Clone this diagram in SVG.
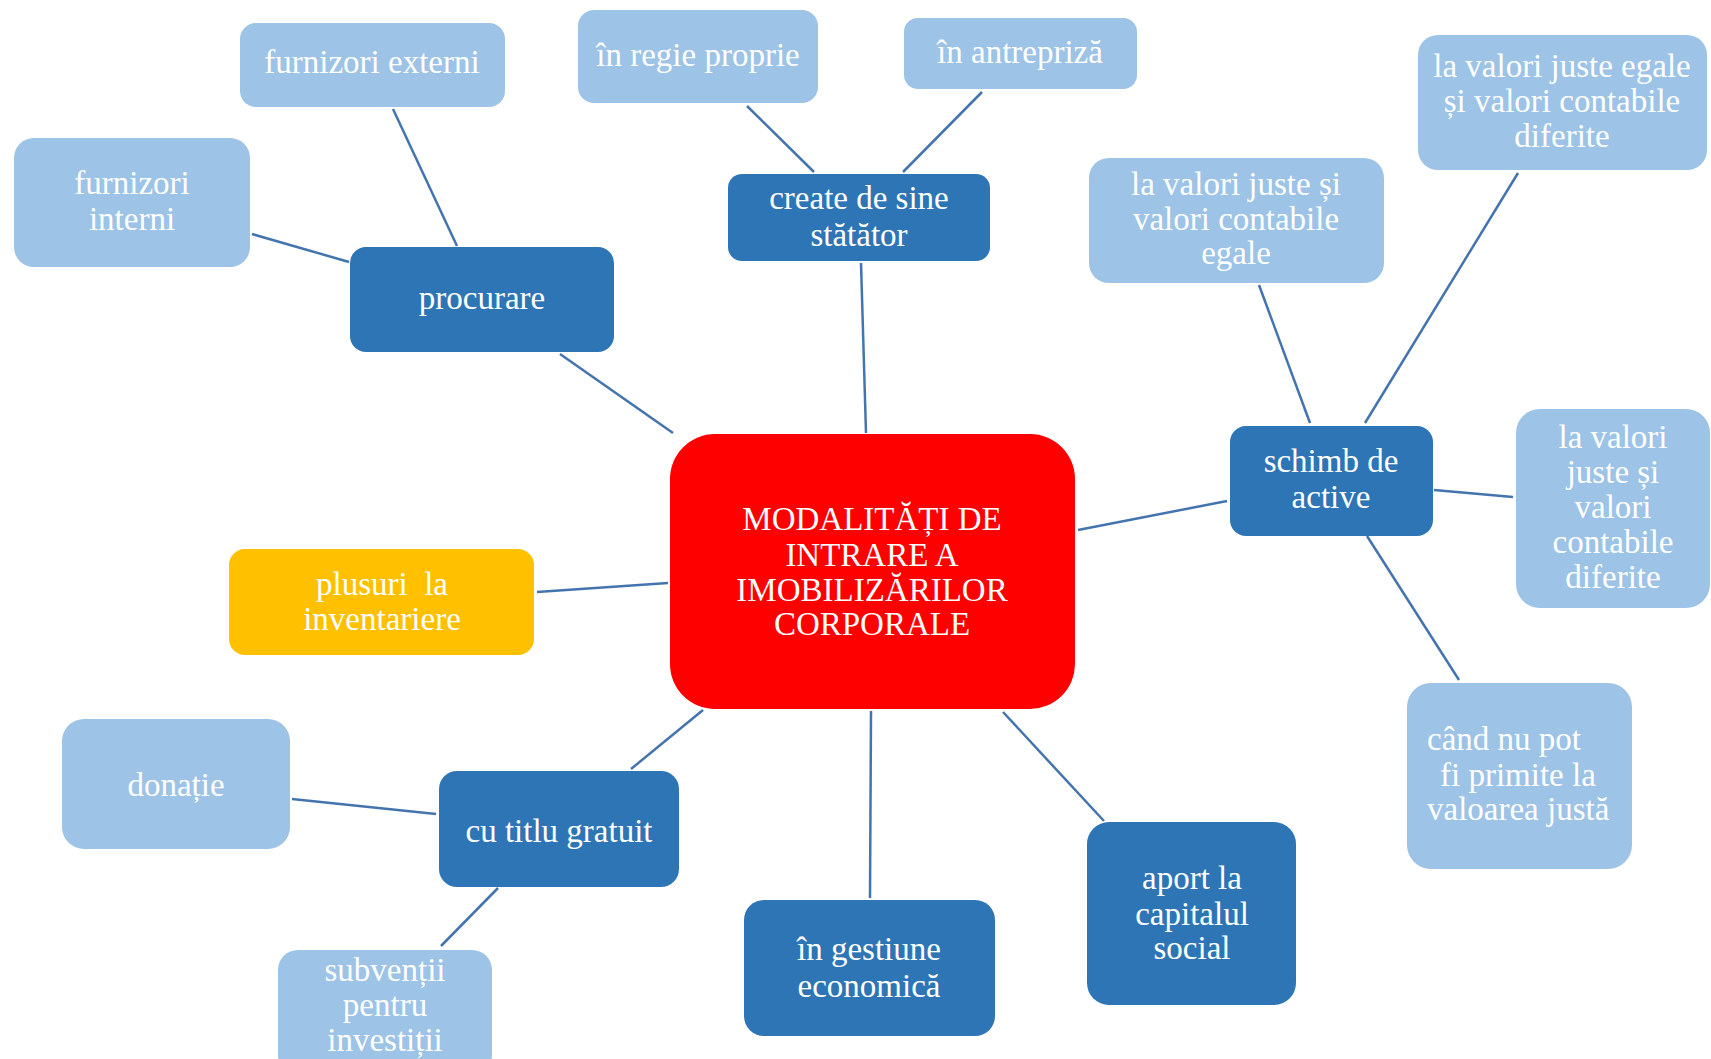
<svg xmlns="http://www.w3.org/2000/svg" width="1711" height="1059" viewBox="0 0 1711 1059">
<style>
  .lt { fill: #9DC3E6; }
  .dk { fill: #2E75B6; }
  .yl { fill: #FFC000; }
  .rd { fill: #FF0000; }
  text { font-family: "Liberation Serif", "Times New Roman", serif; font-size: 33px; fill: #FFFFFF; text-anchor: middle; }
  #connectors line { stroke: #4474AE; stroke-width: 2.5; }
</style>
<rect x="0" y="0" width="1711" height="1059" fill="#FFFFFF"/>
<g id="connectors">
  <line x1="393" y1="109" x2="457" y2="246"/>
  <line x1="252" y1="234" x2="349" y2="262"/>
  <line x1="560" y1="354" x2="673" y2="433"/>
  <line x1="747" y1="106" x2="814" y2="172"/>
  <line x1="982" y1="92" x2="903" y2="172"/>
  <line x1="861" y1="263" x2="866" y2="433"/>
  <line x1="1078" y1="530" x2="1227" y2="501"/>
  <line x1="1259" y1="285" x2="1310" y2="423"/>
  <line x1="1518" y1="173" x2="1365" y2="423"/>
  <line x1="1434" y1="490" x2="1513" y2="497"/>
  <line x1="1367" y1="536" x2="1459" y2="680"/>
  <line x1="537" y1="592" x2="668" y2="583"/>
  <line x1="703" y1="710" x2="631" y2="769"/>
  <line x1="292" y1="799" x2="436" y2="814"/>
  <line x1="498" y1="888" x2="441" y2="946"/>
  <line x1="871" y1="711" x2="870" y2="898"/>
  <line x1="1003" y1="712" x2="1104" y2="821"/>
</g>
<g id="center">
  <rect class="rd" x="670" y="434" width="405" height="275" rx="45"/>
  <text x="872" y="530">MODALITĂȚI DE</text>
  <text x="872" y="566">INTRARE A</text>
  <text x="872" y="601">IMOBILIZĂRILOR</text>
  <text x="872" y="635">CORPORALE</text>
</g>
<g id="furnizori-externi">
  <rect class="lt" x="240" y="23" width="265" height="84" rx="16"/>
  <text x="372" y="73">furnizori externi</text>
</g>
<g id="furnizori-interni">
  <rect class="lt" x="14" y="138" width="236" height="129" rx="20"/>
  <text x="132" y="194">furnizori</text>
  <text x="132" y="230">interni</text>
</g>
<g id="procurare">
  <rect class="dk" x="350" y="247" width="264" height="105" rx="16"/>
  <text x="482" y="309">procurare</text>
</g>
<g id="in-regie-proprie">
  <rect class="lt" x="578" y="10" width="240" height="93" rx="16"/>
  <text x="698" y="66">în regie proprie</text>
</g>
<g id="in-antrepriza">
  <rect class="lt" x="904" y="18" width="233" height="71" rx="14"/>
  <text x="1020" y="63">în antrepriză</text>
</g>
<g id="create-de-sine-statator">
  <rect class="dk" x="728" y="174" width="262" height="87" rx="14"/>
  <text x="859" y="209">create de sine</text>
  <text x="859" y="246">stătător</text>
</g>
<g id="juste-egale-contabile-diferite">
  <rect class="lt" x="1418" y="35" width="289" height="135" rx="20"/>
  <text x="1562" y="77">la valori juste egale</text>
  <text x="1562" y="112">și valori contabile</text>
  <text x="1562" y="147">diferite</text>
</g>
<g id="juste-contabile-egale">
  <rect class="lt" x="1089" y="158" width="295" height="125" rx="20"/>
  <text x="1236" y="195">la valori juste și</text>
  <text x="1236" y="230">valori contabile</text>
  <text x="1236" y="264">egale</text>
</g>
<g id="schimb-de-active">
  <rect class="dk" x="1230" y="426" width="203" height="110" rx="16"/>
  <text x="1331" y="472">schimb de</text>
  <text x="1331" y="508">active</text>
</g>
<g id="juste-contabile-diferite">
  <rect class="lt" x="1516" y="409" width="194" height="199" rx="24"/>
  <text x="1613" y="448">la valori</text>
  <text x="1613" y="483">juste și</text>
  <text x="1613" y="518">valori</text>
  <text x="1613" y="553">contabile</text>
  <text x="1613" y="588">diferite</text>
</g>
<g id="cand-nu-pot">
  <rect class="lt" x="1407" y="683" width="225" height="186" rx="24"/>
  <text x="1427" y="750" style="text-anchor:start">când nu pot</text>
  <text x="1440" y="786" style="text-anchor:start">fi primite la</text>
  <text x="1427" y="820" style="text-anchor:start">valoarea justă</text>
</g>
<g id="aport-la-capitalul-social">
  <rect class="dk" x="1087" y="822" width="209" height="183" rx="22"/>
  <text x="1192" y="889">aport la</text>
  <text x="1192" y="925">capitalul</text>
  <text x="1192" y="959">social</text>
</g>
<g id="in-gestiune-economica">
  <rect class="dk" x="744" y="900" width="251" height="136" rx="20"/>
  <text x="869" y="960">în gestiune</text>
  <text x="869" y="997">economică</text>
</g>
<g id="cu-titlu-gratuit">
  <rect class="dk" x="439" y="771" width="240" height="116" rx="18"/>
  <text x="559" y="842">cu titlu gratuit</text>
</g>
<g id="donatie">
  <rect class="lt" x="62" y="719" width="228" height="130" rx="22"/>
  <text x="176" y="796">donație</text>
</g>
<g id="plusuri-la-inventariere">
  <rect class="yl" x="229" y="549" width="305" height="106" rx="16"/>
  <text x="382" y="595" xml:space="preserve">plusuri  la</text>
  <text x="382" y="630">inventariere</text>
</g>
<g id="subventii-pentru-investitii">
  <rect class="lt" x="278" y="950" width="214" height="125" rx="20"/>
  <text x="385" y="981">subvenții</text>
  <text x="385" y="1016">pentru</text>
  <text x="385" y="1051">investiții</text>
</g>
</svg>
